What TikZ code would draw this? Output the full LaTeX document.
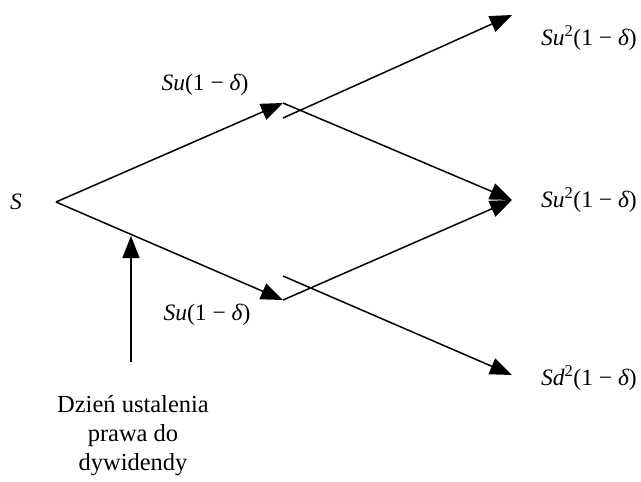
\documentclass[tikz,border=0pt]{standalone}
\usepackage{fontspec}
\setmainfont{Liberation Serif}
\usetikzlibrary{arrows.meta}
\tikzset{
  conn/.style={line width=1.5pt,-{Triangle[length=22pt,width=17pt]}},
  lbl/.style={inner sep=0pt,font=\fontsize{23.5}{27}\selectfont},
  rlbl/.style={lbl,anchor=west},
}
\begin{document}
\begin{tikzpicture}[x=1pt,y=-1pt]
\useasboundingbox (0,0) rectangle (641,482);
% points
\coordinate (S0) at (56,202);
\coordinate (A) at (283,103);
\coordinate (Aout) at (283,118);
\coordinate (B) at (283,300);
\coordinate (Bout) at (283,276);
\coordinate (T1) at (512,15);
\coordinate (T2) at (512,200);
\coordinate (T3) at (512,375);
\coordinate (V0) at (131,362);
\coordinate (V1) at (131,236);
% labels
\node[lbl] (Slab) at (16,202) {\itshape S};
\node[lbl] (uplab) at (205,85) {{\itshape Su}(1 − {\itshape δ})};
\node[lbl] (dnlab) at (207,315) {{\itshape Su}(1 − {\itshape δ})};
\node[rlbl] (r1) at (541,38) {{\itshape Su}\textsuperscript{2}(1 − {\itshape δ})};
\node[rlbl] (r2) at (541,200) {{\itshape Su}\textsuperscript{2}(1 − {\itshape δ})};
\node[rlbl] (r3) at (541,378) {{\itshape Sd}\textsuperscript{2}(1 − {\itshape δ})};
\node[lbl,align=center,font=\fontsize{24.5}{29}\selectfont] (note) at (133,436) {Dzień ustalenia\\prawa do\\dywidendy};
% connectors
\draw[conn] (S0) -- (A);
\draw[conn] (S0) -- (B);
\draw[conn] (Aout) -- (T1);
\draw[conn] (A) -- (T2);
\draw[conn] (B) -- (T2);
\draw[conn] (Bout) -- (T3);
\draw[conn] (V0) -- (V1);
\end{tikzpicture}
\end{document}
